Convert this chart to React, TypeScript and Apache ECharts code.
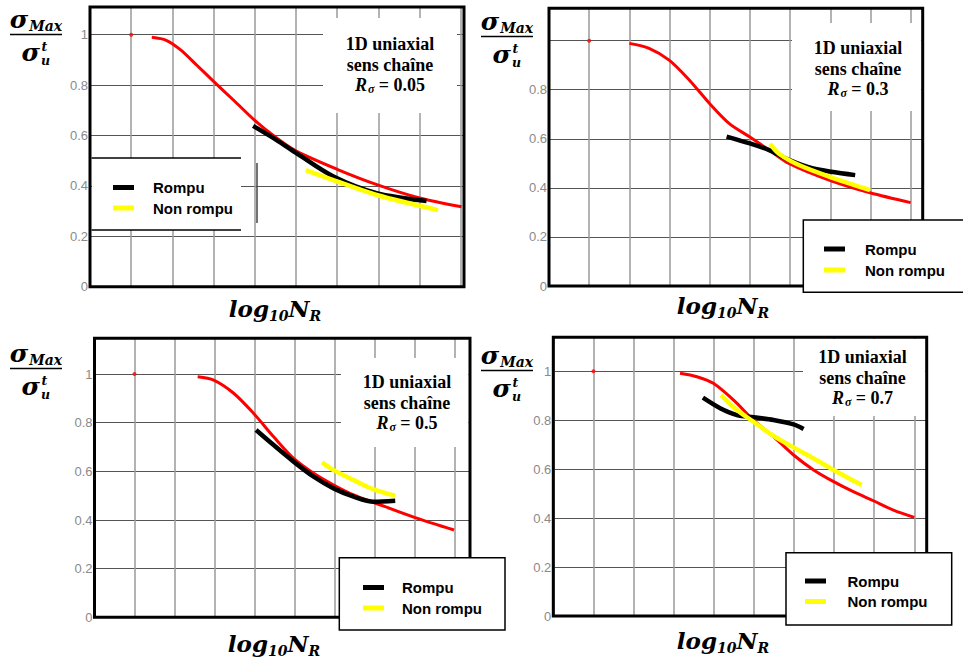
import { useEffect, useRef } from 'react';
import * as echarts from 'echarts';

// ---------- data ----------
const panelRatios = ['0.05', '0.3', '0.5', '0.7'];
const yTickValues = [0, 0.2, 0.4, 0.6, 0.8, 1];
const legendNames = ['Rompu', 'Non rompu'];
const startPoint = [[1, 1]];

const red1 = [[1.5, 0.99], [1.85, 0.978], [2.2, 0.94], [2.6, 0.878], [3.0, 0.815], [3.5, 0.738], [4.0, 0.66], [4.5, 0.594], [5.0, 0.539], [6.0, 0.466], [7.0, 0.403], [8.0, 0.352], [9.02, 0.317]];
const black1 = [[3.96, 0.638], [4.53, 0.582], [5.02, 0.529], [5.91, 0.437], [6.96, 0.371], [8.17, 0.34]];
const yellow1 = [[5.24, 0.463], [5.91, 0.423], [6.96, 0.364], [8.45, 0.304]];

const red2 = [[2.0, 0.989], [2.49, 0.969], [2.99, 0.921], [3.49, 0.84], [3.99, 0.745], [4.48, 0.663], [4.98, 0.609], [5.48, 0.554], [5.97, 0.5], [6.97, 0.432], [7.99, 0.38], [9.0, 0.34]];
const black2 = [[4.42, 0.609], [4.98, 0.582], [5.48, 0.554], [5.97, 0.514], [6.55, 0.48], [7.62, 0.452]];
const yellow2 = [[5.5, 0.579], [5.73, 0.538], [6.22, 0.493], [6.97, 0.446], [7.99, 0.391]];

const red3 = [[2.58, 0.989], [2.98, 0.975], [3.48, 0.921], [3.98, 0.838], [4.48, 0.742], [4.98, 0.653], [5.48, 0.592], [5.98, 0.544], [6.48, 0.503], [7.0, 0.471], [8.0, 0.411], [8.99, 0.359]];
const black3 = [[4.04, 0.77], [4.48, 0.708], [4.98, 0.64], [5.48, 0.578], [5.98, 0.53], [6.48, 0.496], [6.98, 0.475], [7.52, 0.479]];
const yellow3 = [[5.69, 0.637], [5.98, 0.605], [6.48, 0.564], [6.98, 0.526], [7.52, 0.5]];

const red4 = [[3.16, 0.992], [3.58, 0.978], [3.99, 0.951], [4.49, 0.883], [4.99, 0.801], [5.49, 0.733], [5.99, 0.658], [6.49, 0.597], [6.99, 0.549], [7.48, 0.508], [7.98, 0.471], [8.48, 0.433], [9.0, 0.403]];
const black4 = [[3.73, 0.892], [4.16, 0.849], [4.58, 0.821], [4.99, 0.812], [5.49, 0.801], [5.99, 0.783], [6.24, 0.764]];
const yellow4 = [[4.18, 0.903], [4.58, 0.842], [4.99, 0.794], [5.49, 0.736], [5.99, 0.689], [6.49, 0.644], [6.99, 0.597], [7.69, 0.535]];

const redSeries = [red1, red2, red3, red4];
const blackSeries = [black1, black2, black3, black4];
const yellowSeries = [yellow1, yellow2, yellow3, yellow4];

// ---------- layout ----------
const layouts = [
  { left: 90, top: 7, width: 374, height: 279.7, xMax: 9.08, yMax: 1.11 },
  { left: 549, top: 8.3, width: 373.7, height: 277.7, xMax: 9.3, yMax: 1.132 },
  { left: 94.5, top: 338.3, width: 375.5, height: 279, xMax: 9.39, yMax: 1.147 },
  { left: 553.3, top: 337.3, width: 373.4, height: 278.7, xMax: 9.31, yMax: 1.139 },
];
const legendLayouts = [
  { left: 113, top: 180, gap: 5.5, pad: 14 },
  { left: 824, top: 241.5, gap: 6, pad: 15 },
  { left: 363, top: 580, gap: 5.5, pad: 13 },
  { left: 805, top: 573.5, gap: 5.5, pad: 16.5 },
];
const legendBoxes = [
  { x: 90, y: 158, w: 151, h: 72, full: false },
  { x: 803.3, y: 220, w: 162, h: 72.3, full: true },
  { x: 339.3, y: 557.7, w: 165.7, h: 72.3, full: true },
  { x: 786, y: 552.7, w: 165.7, h: 72.3, full: true },
];
const annRects = [
  { x: 323, y: 18, w: 134, h: 95 },
  { x: 792, y: 23, w: 129, h: 88 },
  { x: 341, y: 358, w: 127.5, h: 89 },
  { x: 803, y: 339, w: 122, h: 77 },
];
const annPos = [
  { x: 390, y: 50.5 },
  { x: 858, y: 54.5 },
  { x: 407, y: 388.5 },
  { x: 862.5, y: 363.5 },
];
const yTitleOffsets = [[0, 0], [471, 2], [0, 334], [471, 336]];
const xTitleOffsets = [[0, 0], [448, -3], [-1, 335], [448, 332]];

const SERIF = '"DejaVu Serif", serif';
const TSERIF = '"Liberation Serif", serif';
const SANS = '"Liberation Sans", Arial, sans-serif';

function buildGraphics(): any[] {
  const els: any[] = [];
  // plot frames
  layouts.forEach((g) => {
    els.push({ type: 'rect', z: 6, silent: true, shape: { x: g.left, y: g.top, width: g.width, height: g.height }, style: { fill: 'none', stroke: '#000', lineWidth: 3 } });
  });
  // annotation white boxes + texts
  annRects.forEach((r) => {
    els.push({ type: 'rect', z: 5, silent: true, shape: { x: r.x, y: r.y, width: r.w, height: r.h }, style: { fill: '#fff' } });
  });
  annPos.forEach((p, i) => {
    els.push({ type: 'text', z: 20, silent: true, style: { text: '1D uniaxial', x: p.x, y: p.y - 6.1, align: 'center', verticalAlign: 'middle', fontFamily: TSERIF, fontWeight: 'bold', fontSize: 18, fill: '#000' } });
    els.push({ type: 'text', z: 20, silent: true, style: { text: 'sens chaîne', x: p.x, y: p.y + 20.5 - 6.1, align: 'center', verticalAlign: 'middle', fontFamily: TSERIF, fontWeight: 'bold', fontSize: 18, fill: '#000' } });
    els.push({
      type: 'text', z: 20, silent: true,
      style: {
        text: '{i|R}{s|σ}{b| = ' + panelRatios[i] + '}', x: p.x, y: p.y + 40.5 - 6.1, align: 'center', verticalAlign: 'middle',
        rich: {
          i: { fontFamily: TSERIF, fontWeight: 'bold', fontStyle: 'italic', fontSize: 18, lineHeight: 24, fill: '#000' },
          s: { fontFamily: TSERIF, fontWeight: 'bold', fontStyle: 'italic', fontSize: 12, lineHeight: 24, padding: [9, 0, 0, 1], fill: '#000' },
          b: { fontFamily: TSERIF, fontWeight: 'bold', fontSize: 18, lineHeight: 24, fill: '#000' },
        },
      },
    });
  });
  // legend boxes
  legendBoxes.forEach((b) => {
    if (b.full) {
      els.push({ type: 'rect', z: 10, silent: true, shape: { x: b.x, y: b.y, width: b.w, height: b.h }, style: { fill: '#fff', stroke: '#000', lineWidth: 1.5 } });
    } else {
      els.push({ type: 'rect', z: 10, silent: true, shape: { x: b.x + 2, y: b.y, width: b.w - 2, height: b.h }, style: { fill: '#fff' } });
      els.push({ type: 'line', z: 11, silent: true, shape: { x1: b.x + 1.5, y1: b.y, x2: b.x + b.w, y2: b.y }, style: { stroke: '#000', lineWidth: 1.5 } });
      els.push({ type: 'line', z: 11, silent: true, shape: { x1: b.x + 1.5, y1: b.y + b.h, x2: b.x + b.w, y2: b.y + b.h }, style: { stroke: '#000', lineWidth: 1.5 } });
    }
  });
  // stray vertical mark in panel 1
  els.push({ type: 'line', z: 11, silent: true, shape: { x1: 257, y1: 163, x2: 257, y2: 223 }, style: { stroke: '#444', lineWidth: 1.5 } });
  // y titles
  yTitleOffsets.forEach(([dx, dy]) => {
    els.push({
      type: 'text', z: 20, silent: true,
      style: {
        text: '{m|σ}{s|Max}', x: 36 + dx, y: 19.7 + dy, align: 'center', verticalAlign: 'middle',
        rich: {
          m: { fontFamily: SERIF, fontWeight: 'bold', fontStyle: 'italic', fontSize: 25, lineHeight: 26, fill: '#000' },
          s: { fontFamily: SERIF, fontWeight: 'bold', fontStyle: 'italic', fontSize: 14, lineHeight: 26, padding: [12, 0, 0, 1], fill: '#000' },
        },
      },
    });
    els.push({ type: 'line', z: 20, silent: true, shape: { x1: 10 + dx, y1: 34.5 + dy, x2: 62 + dx, y2: 34.5 + dy }, style: { stroke: '#000', lineWidth: 1.5 } });
    els.push({ type: 'text', z: 20, silent: true, style: { text: 'σ', x: 40 + dx, y: 52.4 + dy, align: 'right', verticalAlign: 'middle', fontFamily: SERIF, fontWeight: 'bold', fontStyle: 'italic', fontSize: 25, fill: '#000' } });
    els.push({ type: 'text', z: 20, silent: true, style: { text: 't', x: 41.5 + dx, y: 46 + dy, align: 'left', verticalAlign: 'middle', fontFamily: SERIF, fontWeight: 'bold', fontStyle: 'italic', fontSize: 12.5, fill: '#000' } });
    els.push({ type: 'text', z: 20, silent: true, style: { text: 'u', x: 41 + dx, y: 60.5 + dy, align: 'left', verticalAlign: 'middle', fontFamily: SERIF, fontWeight: 'bold', fontStyle: 'italic', fontSize: 12.5, fill: '#000' } });
  });
  // x titles
  xTitleOffsets.forEach(([dx, dy]) => {
    els.push({
      type: 'text', z: 20, silent: true,
      style: {
        text: '{m|log}{s|10}{m|N}{s|R}', x: 275 + dx, y: 308.4 + dy, align: 'center', verticalAlign: 'middle',
        rich: {
          m: { fontFamily: SERIF, fontWeight: 'bold', fontStyle: 'italic', fontSize: 23, lineHeight: 30, fill: '#000' },
          s: { fontFamily: SERIF, fontWeight: 'bold', fontStyle: 'italic', fontSize: 14, lineHeight: 30, padding: [15, 0, 0, 0], fill: '#000' },
        },
      },
    });
  });
  return els;
}

function buildOption(): any {
  const grid = layouts.map((g) => ({
    left: g.left, top: g.top, width: g.width, height: g.height,
    show: false, containLabel: false, outerBoundsMode: 'none',
  }));
  const xAxis = layouts.map((g, i) => ({
    type: 'value', gridIndex: i, min: 0, max: g.xMax, interval: 1,
    axisLine: { show: false }, axisTick: { show: false }, axisLabel: { show: false },
    splitLine: { show: true, lineStyle: { color: '#9a9a9a', width: 1.5 } },
  }));
  const yAxis = layouts.map((g, i) => ({
    type: 'value', gridIndex: i, min: 0, max: g.yMax, interval: 0.2,
    axisLine: { show: false }, axisTick: { show: false },
    axisLabel: {
      show: true, margin: 2, color: '#8a8a8a', fontFamily: SANS, fontSize: 13,
      formatter: (v: number) => {
        const ok = yTickValues.some((t) => Math.abs(t - v) < 1e-6) && !(i === 1 && Math.abs(v - 1) < 1e-6);
        return ok ? String(Math.round(v * 10) / 10) : '';
      },
    },
    splitLine: { show: true, lineStyle: { color: '#555', width: 1 } },
  }));
  const series: any[] = [];
  const common = { smooth: 0.3, showSymbol: false, silent: true };
  for (let i = 0; i < 4; i++) {
    series.push({
      type: 'line', name: 'Modèle', xAxisIndex: i, yAxisIndex: i, data: redSeries[i], ...common,
      lineStyle: { color: '#ff0000', width: 3 }, itemStyle: { color: '#ff0000' }, z: 2,
    });
    series.push({
      type: 'scatter', name: 'Début', xAxisIndex: i, yAxisIndex: i, data: startPoint, symbolSize: 4,
      silent: true, itemStyle: { color: '#ff0000' }, z: 2,
    });
    series.push({
      type: 'line', name: 'Rompu', xAxisIndex: i, yAxisIndex: i, data: blackSeries[i], ...common,
      lineStyle: { color: '#000', width: 4.5 }, itemStyle: { color: '#000' }, z: 3,
    });
    series.push({
      type: 'line', name: 'Non rompu', xAxisIndex: i, yAxisIndex: i, data: yellowSeries[i], ...common,
      lineStyle: { color: '#ffff00', width: 4.5 }, itemStyle: { color: '#ffff00' }, z: 4,
    });
  }
  const legend = legendLayouts.map((l) => ({
    data: legendNames, orient: 'vertical', left: l.left, top: l.top, padding: 0,
    itemWidth: 21, itemHeight: 5, itemGap: l.gap, icon: 'rect', selectedMode: false, z: 20,
    itemStyle: { borderWidth: 0 },
    textStyle: { fontFamily: SANS, fontWeight: 'bold', fontSize: 15, color: '#000', padding: [0, 0, 0, l.pad] },
  }));
  return {
    animation: false,
    backgroundColor: '#fff',
    grid, xAxis, yAxis, series, legend,
    graphic: { elements: buildGraphics() },
  };
}

export default function App() {
  const ref = useRef<HTMLDivElement>(null);
  useEffect(() => {
    if (!ref.current) return;
    const chart = echarts.init(ref.current, undefined, { renderer: 'svg' });
    chart.setOption(buildOption());
    return () => chart.dispose();
  }, []);
  return <div ref={ref} style={{ position: 'fixed', left: 0, top: 0, width: 963, height: 661 }} />;
}
